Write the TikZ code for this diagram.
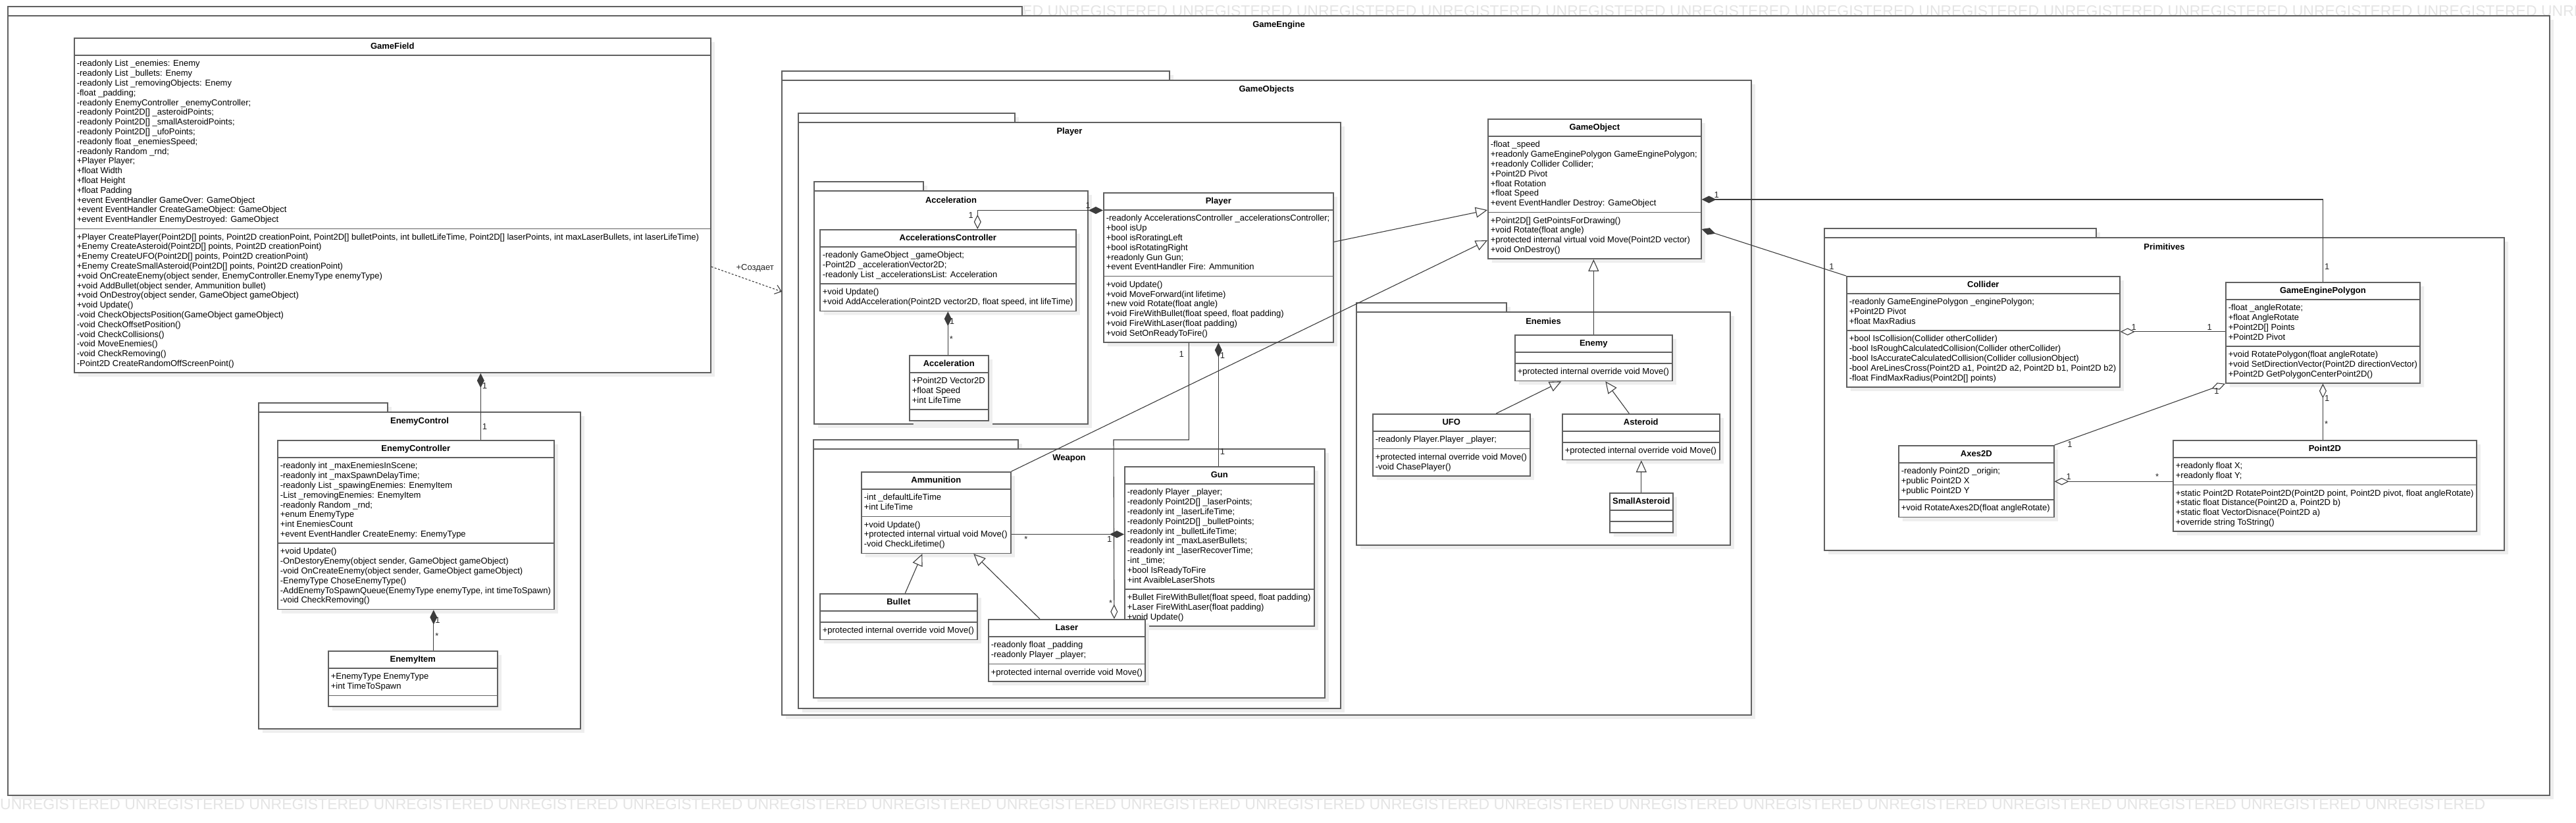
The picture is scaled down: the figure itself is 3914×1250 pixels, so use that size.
\documentclass[tikz,border=0pt]{standalone}
\usepackage{fontspec}
\setmainfont{Liberation Sans}
\usetikzlibrary{shapes.multipart, arrows.meta, shadows}

\definecolor{boxgrey}{HTML}{606060}
\definecolor{linegrey}{HTML}{3C3C3C}
\definecolor{shadowgrey}{HTML}{EEEEEE}
\definecolor{markgrey}{HTML}{E4E4E4}

\newcommand\umlstrut{\rule[-4pt]{0pt}{14.8pt}}
\newcommand\umlrows[1]{\umlstrut#1\umlstrut}
\newcommand\umlname[1]{\umlstrut\textbf{#1}}
\newcommand\markrow{\foreach \k in {1,...,20}{UNREGISTERED\ }}

\tikzset{
  umlfont/.style={font=\fontsize{13pt}{14.8pt}\selectfont},
  umlshadow/.style={general shadow={fill=shadowgrey, shadow xshift=6pt, shadow yshift=-6pt}},
  umlclass/.style={rectangle split, rectangle split parts=3, draw=boxgrey, line width=1.6pt, fill=white, umlfont,
    inner xsep=4pt, inner ysep=5pt, align=left, rectangle split part align={center,left,left},
    rectangle split empty part height=0pt, rectangle split empty part depth=0pt, anchor=north west, umlshadow},
  pkgtab/.style={draw=boxgrey, line width=1.6pt, fill=white, umlshadow},
  pkgbox/.style={rectangle, draw=boxgrey, line width=1.6pt, fill=white, anchor=north west, inner sep=0pt, outer sep=0pt, umlshadow},
  pkgtitle/.style={font=\fontsize{13pt}{14.8pt}\selectfont\bfseries},
  mult/.style={umlfont, inner sep=2pt, text=black!85},
  link/.style={draw=linegrey, line width=1.1pt},
  compose/.style={link, {Diamond[length=22pt, width=11pt]}-},
  composeend/.style={link, -{Diamond[length=22pt, width=11pt]}},
  aggregate/.style={link, {Diamond[open, length=22pt, width=11pt]}-},
  inherit/.style={link, -{Triangle[open, length=18pt, width=16pt]}},
  depend/.style={link, dash pattern=on 3pt off 2.5pt, -{Straight Barb[length=9pt, width=14pt]}},
  watermark/.style={font=\fontsize{23pt}{25pt}\selectfont, text=markgrey, anchor=west, inner sep=0pt}
}

\begin{document}
\begin{tikzpicture}[x=1pt, y=-1pt]
\useasboundingbox (0,0) rectangle (3914,1250);

\begin{scope}
  \clip (0,0) rectangle (3914,1250);
  \node[watermark] (mark-top) at (1553,17) {ED \markrow};
  \node[watermark] (mark-bottom) at (0,1222) {\markrow};
\end{scope}

\foreach \pname/\xa/\ya/\xb/\yb/\xt/\ptitle in {
    gameengine/12/10/3874/1208/1553/GameEngine,
    gameobjects/1188/108/2661/1086/1777/GameObjects,
    playerpkg/1213/172/2037/1076/1542/Player,
    accpkg/1237/276/1653/644/1403/Acceleration,
    weaponpkg/1236/668/2013/1060/1547/Weapon,
    enemiespkg/2061/460/2629/828/2289/Enemies,
    enemyctrlpkg/393/612/882/1107/589/EnemyControl,
    primitivespkg/2772/347/3805/836/3185/Primitives}
{
  \draw[pkgtab] (\xa,\ya) rectangle (\xt,\ya+14);
  \node[pkgbox, minimum width={(\xb-\xa)*1pt}, minimum height={(\yb-\ya-14)*1pt}] (\pname) at (\xa,\ya+14) {};
  \node[pkgtitle] (\pname-title) at ({(\xa+\xb)/2},\ya+28) {\ptitle};
}

\node[umlclass, minimum width=967pt] (gamefield) at (112,57) {\umlname{GameField}
  \nodepart{second}\umlrows{-readonly List \_enemies: Enemy\\
    -readonly List \_bullets: Enemy\\
    -readonly List \_removingObjects: Enemy\\
    -float \_padding;\\
    -readonly EnemyController \_enemyController;\\
    -readonly Point2D[] \_asteroidPoints;\\
    -readonly Point2D[] \_smallAsteroidPoints;\\
    -readonly Point2D[] \_ufoPoints;\\
    -readonly float \_enemiesSpeed;\\
    -readonly Random \_rnd;\\
    +Player Player;\\
    +float Width\\
    +float Height\\
    +float Padding\\
    +event EventHandler GameOver: GameObject\\
    +event EventHandler CreateGameObject: GameObject\\
    +event EventHandler EnemyDestroyed: GameObject}
  \nodepart{third}\umlrows{+Player CreatePlayer(Point2D[] points, Point2D creationPoint, Point2D[] bulletPoints, int bulletLifeTime, Point2D[] laserPoints, int maxLaserBullets, int laserLifeTime)\\
    +Enemy CreateAsteroid(Point2D[] points, Point2D creationPoint)\\
    +Enemy CreateUFO(Point2D[] points, Point2D creationPoint)\\
    +Enemy CreateSmallAsteroid(Point2D[] points, Point2D creationPoint)\\
    +void OnCreateEnemy(object sender, EnemyController.EnemyType enemyType)\\
    +void AddBullet(object sender, Ammunition bullet)\\
    +void OnDestroy(object sender, GameObject gameObject)\\
    +void Update()\\
    -void CheckObjectsPosition(GameObject gameObject)\\
    -void CheckOffsetPosition()\\
    -void CheckCollisions()\\
    -void MoveEnemies()\\
    -void CheckRemoving()\\
    -Point2D CreateRandomOffScreenPoint()}};

\node[umlclass, minimum width=420pt] (enemyctrl) at (421,668) {\umlname{EnemyController}
  \nodepart{second}\umlrows{-readonly int \_maxEnemiesInScene;\\
    -readonly int \_maxSpawnDelayTime;\\
    -readonly List \_spawingEnemies: EnemyItem\\
    -List \_removingEnemies: EnemyItem\\
    -readonly Random \_rnd;\\
    +enum EnemyType\\
    +int EnemiesCount\\
    +event EventHandler CreateEnemy: EnemyType}
  \nodepart{third}\umlrows{+void Update()\\
    -OnDestoryEnemy(object sender, GameObject gameObject)\\
    -void OnCreateEnemy(object sender, GameObject gameObject)\\
    -EnemyType ChoseEnemyType()\\
    -AddEnemyToSpawnQueue(EnemyType enemyType, int timeToSpawn)\\
    -void CheckRemoving()}};

\node[umlclass, minimum width=257pt] (enemyitem) at (498,988) {\umlname{EnemyItem}
  \nodepart{second}\umlrows{+EnemyType EnemyType\\
    +int TimeToSpawn}
  \nodepart{third}};

\node[umlclass, minimum width=389pt] (accctrl) at (1245,348) {\umlname{AccelerationsController}
  \nodepart{second}\umlrows{-readonly GameObject \_gameObject;\\
    -Point2D \_accelerationVector2D;\\
    -readonly List \_accelerationsList: Acceleration}
  \nodepart{third}\umlrows{+void Update()\\
    +void AddAcceleration(Point2D vector2D, float speed, int lifeTime)}};

\node[umlclass, minimum width=120pt] (acceleration) at (1381,539) {\umlname{Acceleration}
  \nodepart{second}\umlrows{+Point2D Vector2D\\
    +float Speed\\
    +int LifeTime}
  \nodepart{third}};

\node[umlclass, minimum width=349pt] (player) at (1676,292) {\umlname{Player}
  \nodepart{second}\umlrows{-readonly AccelerationsController \_accelerationsController;\\
    +bool isUp\\
    +bool isRoratingLeft\\
    +bool isRotatingRight\\
    +readonly Gun Gun;\\
    +event EventHandler Fire: Ammunition}
  \nodepart{third}\umlrows{+void Update()\\
    +void MoveForward(int lifetime)\\
    +new void Rotate(float angle)\\
    +void FireWithBullet(float speed, float padding)\\
    +void FireWithLaser(float padding)\\
    +void SetOnReadyToFire()}};

\node[umlclass, minimum width=227pt] (ammunition) at (1308,716) {\umlname{Ammunition}
  \nodepart{second}\umlrows{-int \_defaultLifeTime\\
    +int LifeTime}
  \nodepart{third}\umlrows{+void Update()\\
    +protected internal virtual void Move()\\
    -void CheckLifetime()}};

\node[umlclass, minimum width=288pt] (gun) at (1708,708) {\umlname{Gun}
  \nodepart{second}\umlrows{-readonly Player \_player;\\
    -readonly Point2D[] \_laserPoints;\\
    -readonly int \_laserLifeTime;\\
    -readonly Point2D[] \_bulletPoints;\\
    -readonly int \_bulletLifeTime;\\
    -readonly int \_maxLaserBullets;\\
    -readonly int \_laserRecoverTime;\\
    -int \_time;\\
    +bool IsReadyToFire\\
    +int AvaibleLaserShots}
  \nodepart{third}\umlrows{+Bullet FireWithBullet(float speed, float padding)\\
    +Laser FireWithLaser(float padding)\\
    +void Update()}};

\node[umlclass, minimum width=239pt] (bullet) at (1245,901) {\umlname{Bullet}
  \nodepart{second}
  \nodepart{third}\umlrows{+protected internal override void Move()}};

\node[umlclass, minimum width=238pt] (laser) at (1501,940) {\umlname{Laser}
  \nodepart{second}\umlrows{-readonly float \_padding\\
    -readonly Player \_player;}
  \nodepart{third}\umlrows{+protected internal override void Move()}};

\node[umlclass, minimum width=324pt] (gameobject) at (2260,180) {\umlname{GameObject}
  \nodepart{second}\umlrows{-float \_speed\\
    +readonly GameEnginePolygon GameEnginePolygon;\\
    +readonly Collider Collider;\\
    +Point2D Pivot\\
    +float Rotation\\
    +float Speed\\
    +event EventHandler Destroy: GameObject}
  \nodepart{third}\umlrows{+Point2D[] GetPointsForDrawing()\\
    +void Rotate(float angle)\\
    +protected internal virtual void Move(Point2D vector)\\
    +void OnDestroy()}};

\node[umlclass, minimum width=239pt] (enemy) at (2301,508) {\umlname{Enemy}
  \nodepart{second}
  \nodepart{third}\umlrows{+protected internal override void Move()}};

\node[umlclass, minimum width=239pt] (ufo) at (2085,628) {\umlname{UFO}
  \nodepart{second}\umlrows{-readonly Player.Player \_player;}
  \nodepart{third}\umlrows{+protected internal override void Move()\\
    -void ChasePlayer()}};

\node[umlclass, minimum width=239pt] (asteroid) at (2373,628) {\umlname{Asteroid}
  \nodepart{second}
  \nodepart{third}\umlrows{+protected internal override void Move()}};

\node[umlclass, minimum width=96pt] (smallasteroid) at (2445,748) {\umlname{SmallAsteroid}
  \nodepart{second}
  \nodepart{third}};

\node[umlclass, minimum width=415pt] (collider) at (2805,419) {\umlname{Collider}
  \nodepart{second}\umlrows{-readonly GameEnginePolygon \_enginePolygon;\\
    +Point2D Pivot\\
    +float MaxRadius}
  \nodepart{third}\umlrows{+bool IsCollision(Collider otherCollider)\\
    -bool IsRoughCalculatedCollision(Collider otherCollider)\\
    -bool IsAccurateCalculatedCollision(Collider collusionObject)\\
    -bool AreLinesCross(Point2D a1, Point2D a2, Point2D b1, Point2D b2)\\
    -float FindMaxRadius(Point2D[] points)}};

\node[umlclass, minimum width=295pt] (polygon) at (3381,428) {\umlname{GameEnginePolygon}
  \nodepart{second}\umlrows{-float \_angleRotate;\\
    +float AngleRotate\\
    +Point2D[] Points\\
    +Point2D Pivot}
  \nodepart{third}\umlrows{+void RotatePolygon(float angleRotate)\\
    +void SetDirectionVector(Point2D directionVector)\\
    +Point2D GetPolygonCenterPoint2D()}};

\node[umlclass, minimum width=236pt] (axes) at (2884,676) {\umlname{Axes2D}
  \nodepart{second}\umlrows{-readonly Point2D \_origin;\\
    +public Point2D X\\
    +public Point2D Y}
  \nodepart{third}\umlrows{+void RotateAxes2D(float angleRotate)}};

\node[umlclass, minimum width=461pt] (point) at (3301,668) {\umlname{Point2D}
  \nodepart{second}\umlrows{+readonly float X;\\
    +readonly float Y;}
  \nodepart{third}\umlrows{+static Point2D RotatePoint2D(Point2D point, Point2D pivot, float angleRotate)\\
    +static float Distance(Point2D a, Point2D b)\\
    +static float VectorDisnace(Point2D a)\\
    +override string ToString()}};

\coordinate (laserbend) at (1692,668);

\draw[compose] ([xshift=134pt]gamefield.south) -- node[mult, pos=0.19, right]{1} node[mult, pos=0.8, right]{1} ([xshift=134pt]gamefield.south |- enemyctrl.north);
\draw[compose] ([xshift=27pt]enemyctrl.south) -- node[mult, pos=0.26, right]{1} node[mult, pos=0.64, right]{*} ([xshift=27pt]enemyctrl.south |- enemyitem.north);
\draw[depend] ([yshift=-93pt]gamefield.east) -- node[mult, pos=0.62, above=13pt]{+Создает} ([yshift=161pt]gameobjects.west);

\draw[link, {Diamond[length=22pt, width=11pt]}-{Diamond[open, length=22pt, width=11pt]}] ([yshift=87pt]player.west) -| node[mult, pos=0.06, above]{1} node[mult, pos=0.64, left=4pt]{1} ([xshift=45pt]accctrl.north);
\draw[compose] (accctrl.south) -- node[mult, pos=0.22, right]{1} node[mult, pos=0.64, right]{*} (accctrl.south |- acceleration.north);
\draw[compose] (player.south) -- node[mult, pos=0.1, right]{1} node[mult, pos=0.88, right]{1} (player.south |- gun.north);
\draw[aggregate] ([xshift=72pt]laser.north) -- node[mult, pos=0.09, left]{*} (laserbend) -| node[mult, pos=0.94, left=5pt]{1} ([xshift=-45pt]player.south);
\draw[composeend] ([yshift=-33pt]ammunition.east) -- node[mult, pos=0.13, below]{*} node[mult, pos=0.87, below]{1} ([yshift=-33pt]ammunition.east -| gun.west);

\draw[inherit] ([xshift=10pt]bullet.north) -- ([xshift=-21pt]ammunition.south);
\draw[inherit] ([xshift=-41pt]laser.north) -- ([xshift=57pt]ammunition.south);
\draw[inherit] ([yshift=39pt]player.east) -- ([yshift=-32pt]gameobject.west);
\draw[inherit] (ammunition.north east) -- ([yshift=-78pt]gameobject.west);
\draw[inherit] (enemy.north) -- (enemy.north |- gameobject.south);
\draw[inherit] ([xshift=68pt]ufo.north) -- ([xshift=-49pt]enemy.south);
\draw[inherit] ([xshift=-18pt]asteroid.north) -- ([xshift=18pt]enemy.south);
\draw[inherit] (smallasteroid.north) -- (smallasteroid.north |- asteroid.south);

\draw[compose] ([yshift=-16pt]gameobject.east) -| node[mult, pos=0.012, above]{1} node[mult, pos=0.91, right]{1} (polygon.north);
\draw[compose] ([yshift=-61pt]gameobject.east) -- node[mult, pos=0.9, above]{1} (collider.north west);
\draw[aggregate] (collider.east) -- node[mult, pos=0.13, above]{1} node[mult, pos=0.85, above]{1} (collider.east -| polygon.west);
\draw[aggregate] (polygon.south west) -- node[mult, pos=0.05, below]{1} node[mult, pos=0.91, below]{1} (axes.north east);
\draw[aggregate] (polygon.south) -- node[mult, pos=0.26, right]{1} node[mult, pos=0.72, right]{*} (polygon.south |- point.north);
\draw[aggregate] (axes.east) -- node[mult, pos=0.12, above]{1} node[mult, pos=0.87, above]{*} (axes.east -| point.west);
\end{tikzpicture}
\end{document}
